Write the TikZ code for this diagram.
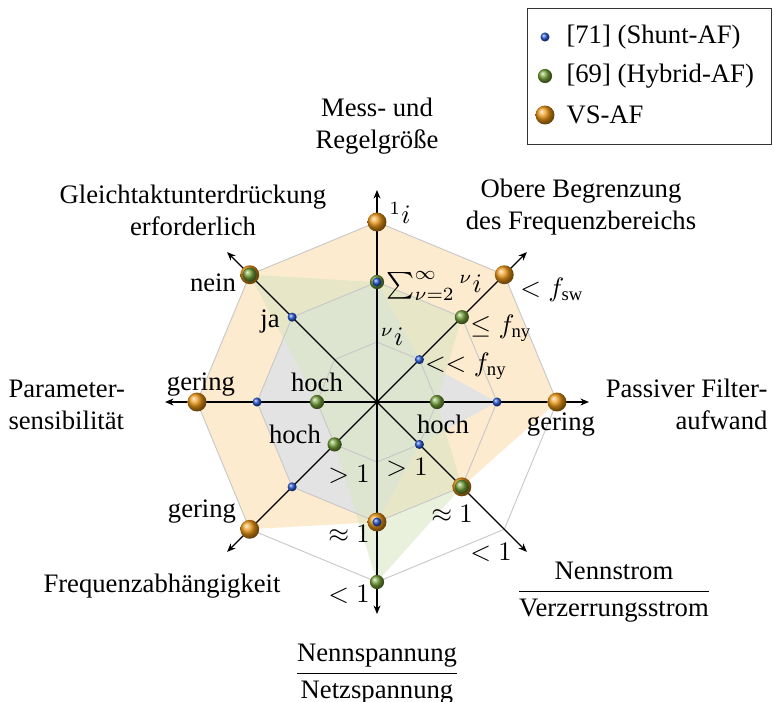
\documentclass[tikz,border=0pt]{standalone}
\usepackage{fontspec}
\setmainfont{Liberation Serif}
\usetikzlibrary{arrows.meta}

\definecolor{vsfillc}{RGB}{253,235,207}
\definecolor{shuntfillc}{RGB}{205,220,250}
\definecolor{hybfillc}{RGB}{216,229,194}
\definecolor{gridc}{RGB}{200,200,200}
\definecolor{vsballc}{RGB}{235,150,20}
\definecolor{hybballc}{RGB}{115,160,55}
\definecolor{shuntballc}{RGB}{35,85,210}

\tikzset{
  gridline/.style={draw=gridc, line width=0.35pt},
  axisline/.style={draw=black, line width=0.5pt, -{Stealth[length=3.2pt,width=2.6pt]}},
  vsball/.style={circle, inner sep=0pt, minimum size=7.1pt, shading=ball, ball color=vsballc},
  hybball/.style={circle, inner sep=0pt, minimum size=5.3pt, shading=ball, ball color=hybballc},
  shuntball/.style={circle, inner sep=0pt, minimum size=3.4pt, shading=ball, ball color=shuntballc},
  lbl/.style={inner sep=0pt, font=\fontsize{10}{12}\selectfont},
  title/.style={lbl, align=center},
}

\begin{document}
\begin{tikzpicture}[x=0.375pt, y=-0.375pt]
  \useasboundingbox (0,0) rectangle (774,702);

  % radar geometry: eight axes, three levels of 60 units each
  \begin{scope}[shift={(377,402)}, y=0.375pt]
    \coordinate (c) at (0,0);
    \foreach \a [count=\i from 0] in {90,45,0,-45,-90,-135,180,135} {
      \foreach \k in {1,2,3} { \coordinate (p\i-\k) at (\a:\k*60); }
      \coordinate (t\i) at (\a:212);
    }
  \end{scope}

  % VS-AF area
  \fill[vsfillc] (p0-3) -- (p1-3) -- (p2-3) -- (p3-2) -- (p4-2) -- (p5-3) -- (p6-3) -- (p7-3) -- cycle;
  % Shunt-AF area
  \fill[shuntfillc, fill opacity=0.5] (p0-2) -- (p1-1) -- (p2-2) -- (p3-1) -- (p4-2) -- (p5-2) -- (p6-2) -- (p7-2) -- cycle;
  % Hybrid-AF area
  \fill[hybfillc, fill opacity=0.57] (p0-2) -- (p1-2) -- (p2-1) -- (p3-2) -- (p4-3) -- (p5-1) -- (p6-1) -- (p7-3) -- cycle;

  % level rings
  \foreach \k in {1,2,3}
    \draw[gridline] (p0-\k) -- (p1-\k) -- (p2-\k) -- (p3-\k) -- (p4-\k) -- (p5-\k) -- (p6-\k) -- (p7-\k) -- cycle;

  % axes
  \foreach \i in {0,...,7}
    \draw[axisline] (c) -- (t\i);

  % markers
  \foreach \i/\k in {0/3,1/3,2/3,3/2,4/2,5/3,6/3,7/3}
    \node[vsball] (vs\i) at (p\i-\k) {};
  \foreach \i/\k in {0/2,1/2,2/1,3/2,4/3,5/1,6/1,7/3}
    \node[hybball] (hy\i) at (p\i-\k) {};
  \foreach \i/\k in {0/2,1/1,2/2,3/1,4/2,5/2,6/2,7/2}
    \node[shuntball] (sh\i) at (p\i-\k) {};

  % axis titles
  \node[title] (ax0) at (377,126) {Mess- und\\Regelgröße};
  \node[title] (ax1) at (581,207) {Obere Begrenzung\\des Frequenzbereichs};
  \node[lbl, align=right, anchor=east] (ax2) at (768,404) {Passiver Filter-\\aufwand};
  \node[lbl] (ax3) at (614,592) {$\displaystyle\frac{\mbox{Nennstrom}}{\mbox{Verzerrungsstrom}}$};
  \node[lbl] (ax4) at (377,674) {$\displaystyle\frac{\mbox{Nennspannung}}{\mbox{Netzspannung}}$};
  \node[lbl] (ax5) at (162,586) {Frequenzabhängigkeit};
  \node[lbl, align=left, anchor=west] (ax6) at (8,405) {Parameter-\\sensibilität};
  \node[title] (ax7) at (193,210) {Gleichtaktunterdrückung\\erforderlich};

  % level labels
  \node[lbl] (l0-3) at (400,213) {${}^{1}i$};
  \node[lbl, anchor=west] (l0-2) at (386,286) {$\sum_{\nu=2}^{\infty}{}^{\nu}i$};
  \node[lbl] (l0-1) at (392,337) {${}^{\nu}i$};
  \node[lbl] (l1-3) at (552,290) {$<f_{\mathrm{sw}}$};
  \node[lbl] (l1-2) at (501,328) {$\leq f_{\mathrm{ny}}$};
  \node[lbl] (l1-1) at (466,366) {$<<f_{\mathrm{ny}}$};
  \node[lbl] (l2-1) at (443,424) {hoch};
  \node[lbl] (l2-3) at (561,425) {gering};
  \node[lbl] (l3-1) at (407,467) {$>1$};
  \node[lbl] (l3-2) at (452,514) {$\approx 1$};
  \node[lbl] (l3-3) at (491,552) {$<1$};
  \node[lbl] (l4-1) at (349,474) {$>1$};
  \node[lbl] (l4-2) at (349,534) {$\approx 1$};
  \node[lbl] (l4-3) at (349,594) {$<1$};
  \node[lbl] (l5-1) at (295,434) {hoch};
  \node[lbl] (l5-3) at (202,512) {gering};
  \node[lbl] (l6-1) at (317,382) {hoch};
  \node[lbl] (l6-3) at (201,385) {gering};
  \node[lbl] (l7-2) at (270,322) {ja};
  \node[lbl] (l7-3) at (213,283) {nein};

  % legend
  \node[draw=black!80, line width=0.4pt, anchor=north west, inner sep=0pt,
        minimum width=91.5pt, minimum height=51pt] (legend) at (527,8) {};
  \node[shuntball] (lgsh) at (545,37) {};
  \node[hybball] (lghy) at (545,76) {};
  \node[vsball] (lgvs) at (545,115) {};
  \node[lbl, anchor=west] (lgtsh) at (566,37) {[71] (Shunt-AF)};
  \node[lbl, anchor=west] (lgthy) at (566,76) {[69] (Hybrid-AF)};
  \node[lbl, anchor=west] (lgtvs) at (566,115) {VS-AF};
\end{tikzpicture}
\end{document}
